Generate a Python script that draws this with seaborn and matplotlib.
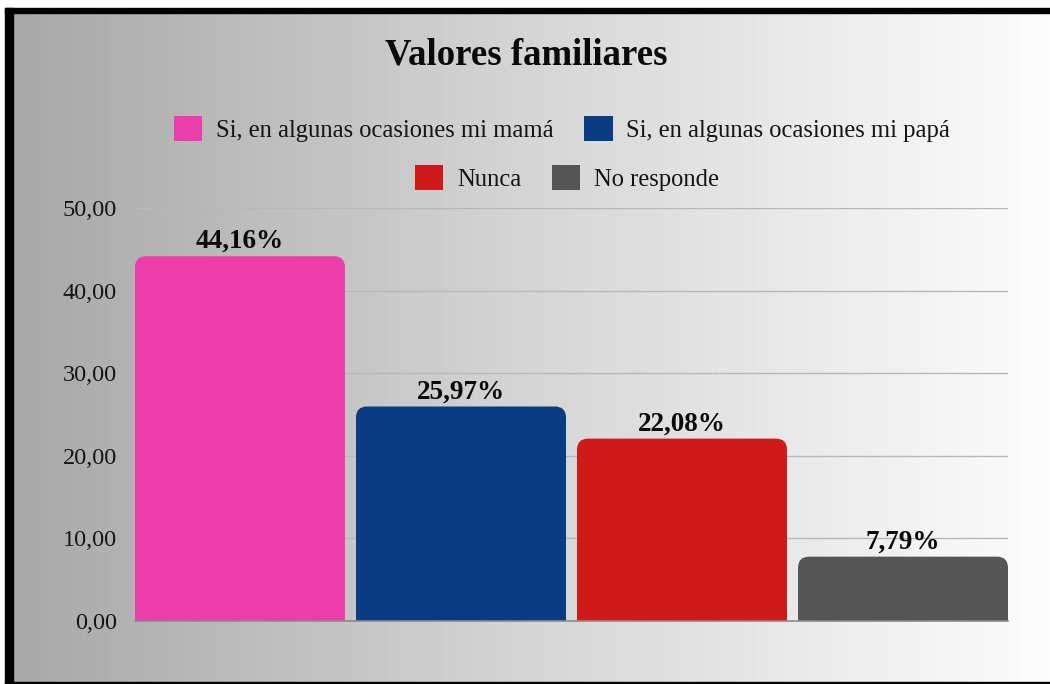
import numpy as np
import pandas as pd
import matplotlib
matplotlib.use("Agg")
import matplotlib.pyplot as plt
import seaborn as sns
from matplotlib.patches import Rectangle, FancyBboxPatch, Patch
from matplotlib.colors import LinearSegmentedColormap

categories = ["Si, en algunas ocasiones mi mamá", "Si, en algunas ocasiones mi papá",
              "Nunca", "No responde"]
values = [44.16, 25.97, 22.08, 7.79]
labels = ["44,16%", "25,97%", "22,08%", "7,79%"]
colors = ["#EB3EAB", "#093C82", "#D01919", "#555555"]
yticks = [0, 10, 20, 30, 40, 50]
ytick_labels = ["0,00", "10,00", "20,00", "30,00", "40,00", "50,00"]
title = "Valores familiares"

sns.set_theme(style="white")
plt.rcParams["font.family"] = ["Liberation Serif", "DejaVu Serif"]

W, H = 1050, 684
fig = plt.figure(figsize=(W / 100, H / 100), dpi=100)
fig.patch.set_facecolor("white")

# gradient background
bg = fig.add_axes([13 / W, 2 / H, 1 - 13 / W, (682 - 13) / H])
bg.set_axis_off()
grad = np.linspace(0, 1, 256).reshape(1, -1)
cmap = LinearSegmentedColormap.from_list("g", ["#a8a8a8", "#d6d6d6", "#fdfdfd"])
bg.imshow(grad, aspect="auto", cmap=cmap, extent=[0, 1, 0, 1])
bg.set_zorder(-2)

# border
k = "black"
fig.add_artist(Rectangle((5 / W, 1 - 13 / H), 1, 5 / H, transform=fig.transFigure, color=k, zorder=5))
fig.add_artist(Rectangle((5 / W, 0), 8 / W, 1 - 8 / H, transform=fig.transFigure, color=k, zorder=5))
fig.add_artist(Rectangle((5 / W, 0), 1, 2.5 / H, transform=fig.transFigure, color=k, zorder=5))

ax = fig.add_axes([135 / W, 63 / H, (1008 - 135) / W, (621 - 208) / H])
ax.set_facecolor("none")

df = pd.DataFrame({"cat": categories, "val": values})
w = 0.95
sns.barplot(data=df, x="cat", y="val", hue="cat", palette=colors, width=w,
            legend=False, ax=ax, saturation=1, order=categories, hue_order=categories)
ax.set_xlim(-w / 2, len(categories) - 1 + w / 2)
ax.set_ylim(0, 50)

# replace bars with rounded-top bars
fig.canvas.draw()
p0 = ax.transData.transform((0, 0))
p1 = ax.transData.transform((1, 1))
xpx = p1[0] - p0[0]
ypx = p1[1] - p0[1]
r_px = 11
rx = r_px / xpx
aspect = xpx / ypx
bars = list(ax.patches)
for b in bars:
    x0, bw, h = b.get_x(), b.get_width(), b.get_height()
    fc = b.get_facecolor()
    b.remove()
    fb = FancyBboxPatch((x0, -2 * r_px / ypx), bw, h + 2 * r_px / ypx,
                        boxstyle=f"round,pad=0,rounding_size={rx}",
                        mutation_aspect=aspect, facecolor=fc, edgecolor="none", zorder=2)
    ax.add_patch(fb)

for i, (v, lab) in enumerate(zip(values, labels)):
    ax.annotate(lab, (i, v), xytext=(0, 1.5), textcoords="offset points", ha="center", va="bottom",
                fontsize=19.5, fontweight="bold", color="#0a0a0a")

ax.set_yticks(yticks)
ax.set_yticklabels(ytick_labels, fontsize=17.5, color="#151515")
ax.set_xticks([])
ax.set_xlabel("")
ax.set_ylabel("")
ax.tick_params(axis="y", length=0, pad=13)
for s in ["top", "right", "left"]:
    ax.spines[s].set_visible(False)
ax.spines["bottom"].set_color("#8a8a8a")
ax.spines["bottom"].set_linewidth(1.2)
ax.spines["bottom"].set_zorder(3)
for t in yticks[1:]:
    ax.axhline(t, color="#b8b8b8", lw=1, zorder=1)

fig.text(526 / W, 1 - 55 / H, title, ha="center", va="center", fontsize=26.5, fontweight="bold",
         color="#0a0a0a")

handles = [Patch(facecolor=c, edgecolor="none") for c in colors]
leg_kw = dict(frameon=False, fontsize=17.7, handlelength=1.15, handleheight=1.15,
              handletextpad=0.55, columnspacing=1.25, labelcolor="#151515")
l1 = fig.legend(handles[:2], categories[:2], ncol=2, loc="center",
                bbox_to_anchor=(562 / W, 1 - 129 / H), **leg_kw)
l2 = fig.legend(handles[2:], categories[2:], ncol=2, loc="center",
                bbox_to_anchor=(567 / W, 1 - 178 / H), **leg_kw)

fig.savefig("out.png", dpi=100)
